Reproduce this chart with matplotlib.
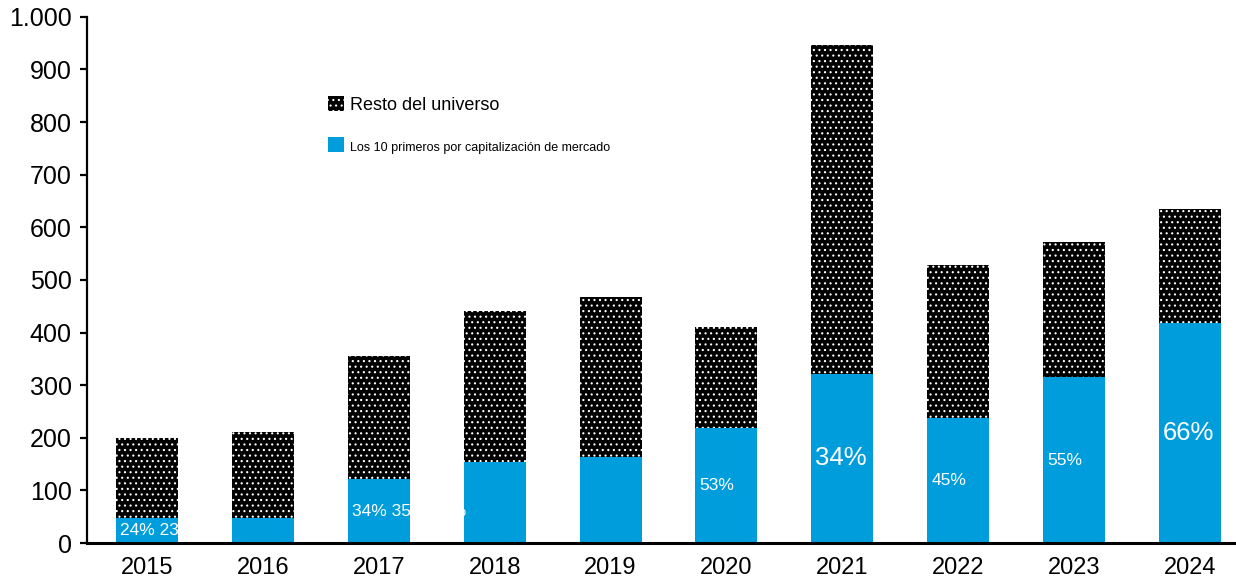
import matplotlib
matplotlib.use("Agg")
import matplotlib.pyplot as plt
import matplotlib.ticker as mticker
from matplotlib.patches import Patch
import numpy as np

plt.rcParams['font.family'] = ['Liberation Sans', 'DejaVu Sans']
plt.rcParams['hatch.color'] = 'white'
plt.rcParams['hatch.linewidth'] = 0.8

years = ["2015", "2016", "2017", "2018", "2019", "2020", "2021", "2022", "2023", "2024"]
total = [200, 211, 355, 441, 468, 411, 947, 529, 572, 635]
top10 = [48, 48, 121, 154, 164, 218, 322, 238, 315, 419]
share_labels = ["24% 23%", "", "34% 35% 35%", "", "", "53%", "34%", "45%", "55%", "66%"]
big_label = [False, False, False, False, False, False, True, False, False, True]

BLUE = "#009ddc"
W = 0.535

fig = plt.figure(figsize=(12.36, 5.79), dpi=100)
ax = fig.add_axes([0.0704, 0.062, 0.9296, 0.909])

x = np.arange(len(years))
rest = np.array(total) - np.array(top10)

ax.bar(x, top10, width=W, color=BLUE, linewidth=0, zorder=2)
ax.bar(x, rest, width=W, bottom=top10, color="black", edgecolor="white",
       linewidth=0, hatch="...", zorder=2)

# share labels sit in the middle of the blue part, anchored on the bar's left edge
for i, lab in enumerate(share_labels):
    if not lab:
        continue
    ax.annotate(lab, (x[i] - W / 2, top10[i] / 2), xytext=(3, 0),
                textcoords="offset points", ha="left", va="center",
                color="white", fontsize=18.5 if big_label[i] else 12.5, zorder=3)

ax.set_xlim(-0.52, 9.40)
ax.set_ylim(0, 1000)
ax.set_yticks(np.arange(0, 1001, 100))
ax.yaxis.set_major_formatter(mticker.FuncFormatter(lambda v, p: f"{v:,.0f}".replace(",", ".")))
ax.set_xticks(x)
ax.set_xticklabels(years)

for s in ["top", "right"]:
    ax.spines[s].set_visible(False)
ax.spines["left"].set_linewidth(1.6)
ax.spines["bottom"].set_linewidth(2.2)
ax.spines["bottom"].set_zorder(4)
ax.tick_params(axis="y", direction="out", length=5, width=1.6, labelsize=18, pad=6)
ax.tick_params(axis="x", length=0, labelsize=17, pad=10)

handles = [Patch(facecolor="black", edgecolor="white", linewidth=0, hatch="..."),
           Patch(facecolor=BLUE, linewidth=0)]
leg = ax.legend(handles, ["Resto del universo", "Los 10 primeros por capitalización de mercado"],
                loc="upper left", bbox_to_anchor=(312 / 1236, 1 - 80 / 579),
                bbox_transform=fig.transFigure, frameon=False, fontsize=13,
                handlelength=0.85, handleheight=0.85, handletextpad=0.35, labelspacing=1.3)
leg.get_texts()[1].set_fontsize(9)

fig.savefig("out.png", dpi=100)
